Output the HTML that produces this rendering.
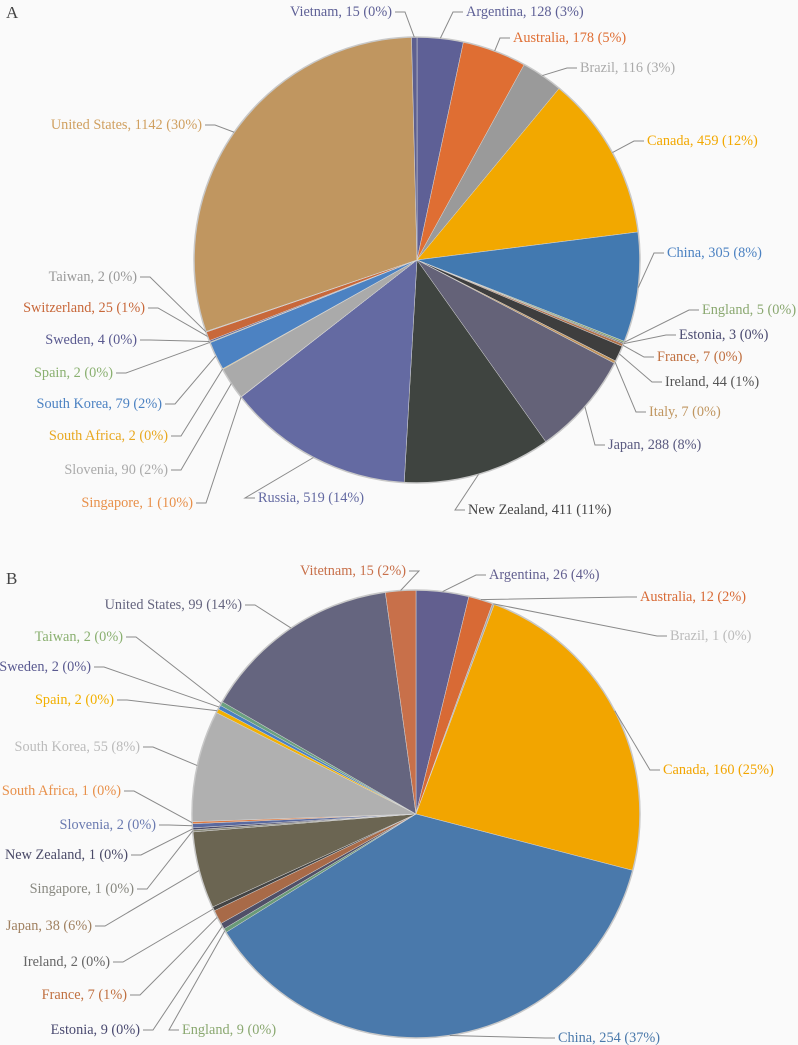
<!DOCTYPE html>
<html><head><meta charset="utf-8">
<style>
html,body{margin:0;padding:0;background:#fafafa;}
svg{display:block;}
text{font-family:"Liberation Serif",serif;font-size:14.3px;}
</style></head>
<body>
<svg id="chart" width="798" height="1045" viewBox="0 0 798 1045">
<text x="6" y="18" style="font-size:17px" fill="#444">A</text>
<text x="6" y="584" style="font-size:17px" fill="#444">B</text>
<g id="pieA"></g>
<g id="pieB"></g>
</svg>
<script>
// ---- Panel A data ----
const catsA = ["Argentina","Australia","Brazil","Canada","China","England","Estonia","France","Ireland","Italy","Japan","New Zealand","Russia","Singapore","Slovenia","South Africa","South Korea","Spain","Sweden","Switzerland","Taiwan","United States","Vietnam"];
const valsA = [128,178,116,459,305,5,3,7,44,7,288,411,519,1,90,2,79,2,4,25,2,1142,15];
const labelsA = ["Argentina, 128 (3%)","Australia, 178 (5%)","Brazil, 116 (3%)","Canada, 459 (12%)","China, 305 (8%)","England, 5 (0%)","Estonia, 3 (0%)","France, 7 (0%)","Ireland, 44 (1%)","Italy, 7 (0%)","Japan, 288 (8%)","New Zealand, 411 (11%)","Russia, 519 (14%)","Singapore, 1 (10%)","Slovenia, 90 (2%)","South Africa, 2 (0%)","South Korea, 79 (2%)","Spain, 2 (0%)","Sweden, 4 (0%)","Switzerland, 25 (1%)","Taiwan, 2 (0%)","United States, 1142 (30%)","Vietnam, 15 (0%)"];
// ---- Panel B data ----
const catsB = ["Argentina","Australia","Brazil","Canada","China","England","Estonia","France","Ireland","Japan","Singapore","New Zealand","Slovenia","South Africa","South Korea","Spain","Sweden","Taiwan","United States","Vietnam"];
const valsB = [26,12,1,160,254,2,3,7,2,38,1,1,2,1,55,2,2,2,99,15];
const labelsB = ["Argentina, 26 (4%)","Australia, 12 (2%)","Brazil, 1 (0%)","Canada, 160 (25%)","China, 254 (37%)","England, 9 (0%)","Estonia, 9 (0%)","France, 7 (1%)","Ireland, 2 (0%)","Japan, 38 (6%)","Singapore, 1 (0%)","New Zealand, 1 (0%)","Slovenia, 2 (0%)","South Africa, 1 (0%)","South Korea, 55 (8%)","Spain, 2 (0%)","Sweden, 2 (0%)","Taiwan, 2 (0%)","United States, 99 (14%)","Vitetnam, 15 (2%)"];

// styling / layout (not data)
const colA = ["#5e6096","#df6e33","#9a9a9a","#f2a800","#4279b0","#8aa870","#4a4a60","#b07048","#3e3e3e","#c0925a","#646278","#3f4440","#646aa2","#e8904a","#aaaaaa","#f0b020","#4c82c2","#8ab070","#5a5a90","#c8683a","#a8a8a8","#c09660","#5e6090"];
const txtA = ["#5e6096","#df6e33","#aaaaaa","#f2a800","#4c82c2","#8aa870","#4a4a70","#c07040","#555555","#c09660","#5a5a80","#444444","#646aa2","#e8904a","#aaaaaa","#e8a820","#4c82c2","#8ab070","#5a5a90","#c8683a","#999999","#d0a060","#5e6096"];
const posA = [[466,16,"start"],[513,42,"start"],[580,72,"start"],[647,145,"start"],[667,257,"start"],[702,314,"start"],[679,339,"start"],[657,361,"start"],[665,386,"start"],[649,416,"start"],[608,449,"start"],[468,514,"start"],[258,502,"start"],[193,507,"end"],[168,474,"end"],[168,440,"end"],[162,408,"end"],[113,377,"end"],[137,344,"end"],[145,312,"end"],[137,281,"end"],[202,129,"end"],[392,16,"end"]];
const colB = ["#625f8f","#d86a35","#aaaaaa","#f2a500","#4a79ab","#6a9a78","#505068","#a86a48","#444444","#6b6552","#8a8a7a","#4a4a68","#5a6aa0","#e07a40","#b0b0b0","#f2b000","#4a80c0","#6aa080","#65657f","#c8704a"];
const txtB = ["#625f8f","#d86a35","#bbbbbb","#f2a500","#4a79ab","#8aa870","#4a4a70","#c07040","#666666","#a08060","#888880","#4a4a68","#6a7ab0","#e8904a","#bbbbbb","#f2b000","#5a5a90","#8ab070","#65657f","#c8704a"];
const posB = [[489,579,"start"],[640,601,"start"],[670,640,"start"],[663,774,"start"],[558,1042,"start"],[182,1034,"start"],[140,1034,"end"],[127,999,"end"],[110,966,"end"],[92,930,"end"],[134,893,"end"],[128,859,"end"],[156,829,"end"],[121,795,"end"],[140,751,"end"],[114,704,"end"],[91,671,"end"],[123,641,"end"],[242,609,"end"],[406,575,"end"]];

const NS = "http://www.w3.org/2000/svg";
function drawPie(gid, cats, vals, labels, cols, txts, pos, cx, cy, r, prefix){
  const g = document.getElementById(gid);
  const total = vals.reduce((a,b)=>a+b,0);
  const angle = v => v/total*2*Math.PI;
  const pt = (a,rr) => [cx + rr*Math.sin(a), cy - rr*Math.cos(a)];
  let a0 = 0;
  const mids = [];
  vals.forEach((v,i)=>{
    const a1 = a0 + angle(v);
    const p0 = pt(a0,r), p1 = pt(a1,r);
    const large = (a1-a0) > Math.PI ? 1 : 0;
    const path = document.createElementNS(NS,"path");
    path.setAttribute("d",`M${cx},${cy} L${p0[0]},${p0[1]} A${r},${r} 0 ${large} 1 ${p1[0]},${p1[1]} Z`);
    path.setAttribute("fill",cols[i]);
    path.setAttribute("stroke","#d8d8d8");
    path.setAttribute("stroke-width","0.5");
    
    
    g.appendChild(path);
    mids.push((a0+a1)/2);
    a0 = a1;
  });
  const outline = document.createElementNS(NS,"circle");
  outline.setAttribute("cx",cx);outline.setAttribute("cy",cy);outline.setAttribute("r",r);
  outline.setAttribute("fill","none");outline.setAttribute("stroke","#c8c8c8");outline.setAttribute("stroke-width","1.5");
  
  
  g.appendChild(outline);
  labels.forEach((lab,i)=>{
    const t = document.createElementNS(NS,"text");
    t.setAttribute("x",pos[i][0]);t.setAttribute("y",pos[i][1]);
    t.setAttribute("text-anchor",pos[i][2]);
    t.setAttribute("fill",txts[i]);
    t.textContent = lab;
    
    
    g.appendChild(t);
    const e = pt(mids[i], r);
    const lx = pos[i][2]==="start" ? pos[i][0]-3 : pos[i][0]+3;
    const ly = pos[i][1]-4;
    const lx2 = pos[i][2]==="start" ? lx-10 : lx+10;
    const pl = document.createElementNS(NS,"polyline");
    pl.setAttribute("points",`${lx},${ly} ${lx2},${ly} ${e[0]},${e[1]}`);
    pl.setAttribute("fill","none");pl.setAttribute("stroke","#8a8a8a");pl.setAttribute("stroke-width","1");
    
    
    g.appendChild(pl);
  });
}
drawPie("pieA", catsA, valsA, labelsA, colA, txtA, posA, 417, 260, 223, "a");
drawPie("pieB", catsB, valsB, labelsB, colB, txtB, posB, 416, 814, 224, "b");
</script>
</body></html>
